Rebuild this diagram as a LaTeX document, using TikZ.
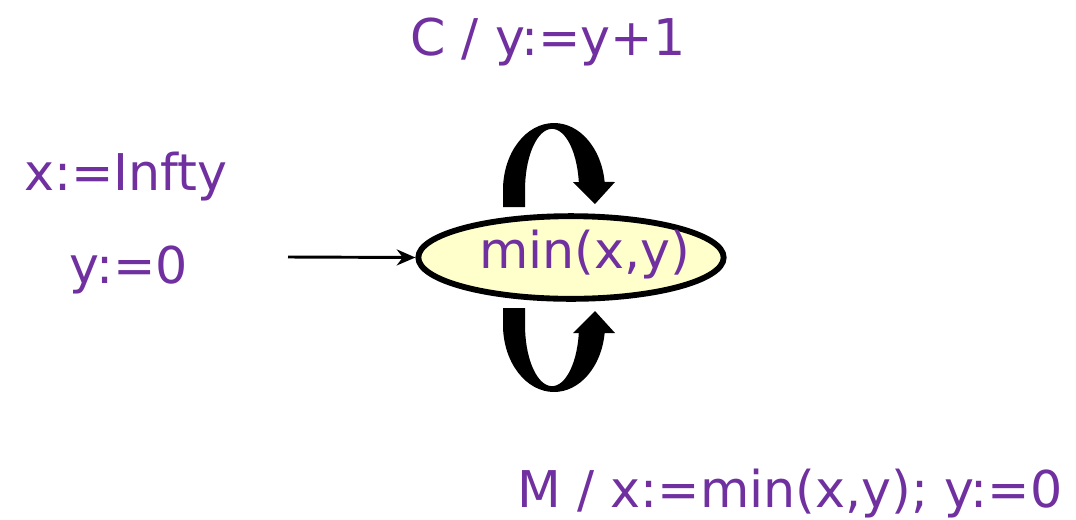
\documentclass[tikz,border=0pt]{standalone}
\usepackage{fontspec}
\setmainfont{DejaVu Sans}
\usetikzlibrary{arrows.meta,shapes.geometric}
\definecolor{lab}{HTML}{7030A0}
\definecolor{statefill}{HTML}{FFFFCC}
\begin{document}
\begin{tikzpicture}[x=0.75pt,y=-0.75pt,
  lbl/.style={text=lab, font=\fontsize{38}{46}\selectfont, inner sep=0pt, anchor=base},
  statebox/.style={ellipse, draw=black, line width=4.4pt, fill=statefill, minimum width=229pt, minimum height=62pt, inner sep=0pt},
  blockarrow/.style={fill=black, draw=none}]
\useasboundingbox (0,0) rectangle (1076,519);
% state
\node[statebox] (st) at (571,257.5) {};
\node[lbl] (stlbl) at (585,268) {min(x,y)};
% labels
\node[lbl] (toplbl) at (548,55) {C / y:=y+1};
\node[lbl] (initx) at (126,190) {x:=Infty};
\node[lbl] (inity) at (129,283) {y:=0};
\node[lbl] (botlbl) at (790,507) {M / x:=min(x,y); y:=0};
% initial arrow
\coordinate (init) at (288,257);
\draw[line width=2.2pt, -{Stealth[length=14pt,width=12pt]}] (init) -- (st.west);
% top self loop (block arrow)
\fill[blockarrow] (503,207) -- (503,190)
  arc[start angle=180, end angle=353.1, x radius=51, y radius=67]
  -- (615,182) -- (595,204) -- (573,182) -- (578.8,182)
  arc[start angle=352.6, end angle=180, x radius=27, y radius=61]
  -- (525,207) -- cycle;
% bottom self loop (block arrow)
\fill[blockarrow] (503,308) -- (503,325)
  arc[start angle=180, end angle=6.9, x radius=51, y radius=67]
  -- (615,333) -- (595,311) -- (573,333) -- (578.8,333)
  arc[start angle=7.4, end angle=180, x radius=27, y radius=61]
  -- (525,308) -- cycle;
\end{tikzpicture}
\end{document}
